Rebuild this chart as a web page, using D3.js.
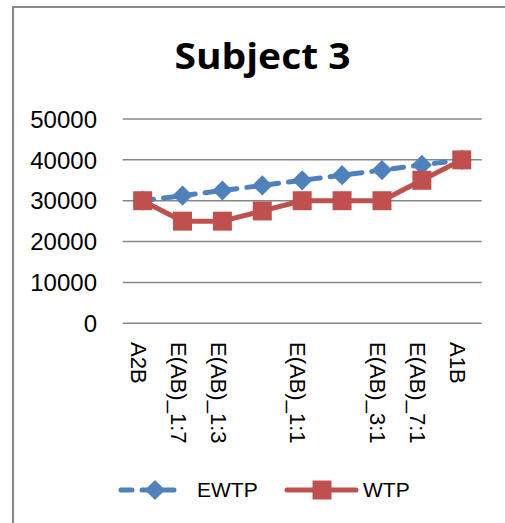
<!DOCTYPE html>
<html>
<head>
<meta charset="utf-8">
<script src="https://cdn.jsdelivr.net/npm/d3@7"></script>
<style>
  html, body { margin: 0; padding: 0; background: #fff; }
  svg { display: block; }
</style>
</head>
<body>
<svg id="chart" width="505" height="523"></svg>
<script>
// Scenario labels along the category axis (two scenarios carry no label)
const categories = ["A2B", "E(AB)_1:7", "E(AB)_1:3", "", "E(AB)_1:1", "", "E(AB)_3:1", "E(AB)_7:1", "A1B"];
// Expected and stated willingness to pay
const ewtp = [30000, 31250, 32500, 33750, 35000, 36250, 37500, 38750, 40000];
const wtp  = [30000, 25000, 25000, 27500, 30000, 30000, 30000, 35000, 40000];
const yTicks = [0, 10000, 20000, 30000, 40000, 50000];
const seriesNames = ["EWTP", "WTP"];

const blue = "#4F81BD", red = "#C0504D", grid = "#878787";
const font = "'Liberation Sans', Arial, sans-serif";
const svg = d3.select("#chart");

// Outer frame (left and top edges)
svg.append("path")
  .attr("d", "M13,523 V7 H505")
  .attr("fill", "none").attr("stroke", "#888").attr("stroke-width", 2);

// Title
svg.append("text")
  .attr("x", 262.5).attr("y", 69)
  .attr("text-anchor", "middle")
  .attr("font-family", "'Open Sans', sans-serif")
  .attr("font-weight", "bold").attr("font-size", 36)
  .attr("textLength", 176).attr("lengthAdjust", "spacingAndGlyphs")
  .attr("fill", "#000").text("Subject 3");

const x = d3.scaleBand().domain(d3.range(categories.length)).range([122.7, 481.7]);
const cx = i => x(i) + x.bandwidth() / 2;
const y = d3.scaleLinear().domain([0, 50000]).range([323.3, 119]);

// Horizontal gridlines
svg.append("g").selectAll("line").data(yTicks).join("line")
  .attr("x1", 122.7).attr("x2", 481.7)
  .attr("y1", d => y(d)).attr("y2", d => y(d))
  .attr("stroke", grid).attr("stroke-width", 1.5);

// Value axis labels
svg.append("g").selectAll("text").data(yTicks).join("text")
  .attr("x", 97).attr("y", d => y(d)).attr("dy", "0.36em")
  .attr("text-anchor", "end")
  .attr("font-family", font)
  .attr("font-size", 24).attr("fill", "#000")
  .text(d => d);

// Category labels, rotated to read downward
svg.append("g").selectAll("text").data(categories).join("text")
  .attr("transform", (d, i) => `translate(${cx(i) - 4},342) rotate(90)`)
  .attr("dy", "0.36em")
  .attr("font-family", font)
  .attr("font-size", 22).attr("fill", "#000")
  .text(d => d);

const line = d3.line().x((d, i) => cx(i)).y(d => y(d));
const diamond = d3.symbol().type(d3.symbolDiamond2).size(260);
const square = d3.symbol().type(d3.symbolSquare).size(360);

// EWTP series: dashed blue with diamonds
svg.append("path").datum(ewtp).attr("d", line)
  .attr("fill", "none").attr("stroke", blue).attr("stroke-width", 5)
  .attr("stroke-dasharray", "11,10").attr("stroke-linecap", "round");
svg.append("g").selectAll("path").data(ewtp).join("path")
  .attr("transform", (d, i) => `translate(${cx(i)},${y(d)})`)
  .attr("d", diamond).attr("fill", blue);

// WTP series: solid red with squares
svg.append("path").datum(wtp).attr("d", line)
  .attr("fill", "none").attr("stroke", red).attr("stroke-width", 5)
  .attr("stroke-linejoin", "round").attr("stroke-linecap", "round");
svg.append("g").selectAll("path").data(wtp).join("path")
  .attr("transform", (d, i) => `translate(${cx(i)},${y(d)})`)
  .attr("d", square).attr("fill", red);

// Legend
const ly = 490;
const lg = svg.append("g");
lg.append("path").attr("d", `M121,${ly} H182`)
  .attr("stroke", blue).attr("stroke-width", 5)
  .attr("stroke-dasharray", "11,10").attr("stroke-linecap", "round");
lg.append("path").attr("transform", `translate(155,${ly})`).attr("d", diamond).attr("fill", blue);
lg.append("text").attr("x", 197).attr("y", ly).attr("dy", "0.35em")
  .attr("font-family", font)
  .attr("font-size", 21).text(seriesNames[0]);
lg.append("path").attr("d", `M287,${ly} H356`)
  .attr("stroke", red).attr("stroke-width", 5).attr("stroke-linecap", "round");
lg.append("path").attr("transform", `translate(322,${ly})`).attr("d", square).attr("fill", red);
lg.append("text").attr("x", 363).attr("y", ly).attr("dy", "0.35em")
  .attr("font-family", font)
  .attr("font-size", 21).text(seriesNames[1]);
</script>
</body>
</html>
